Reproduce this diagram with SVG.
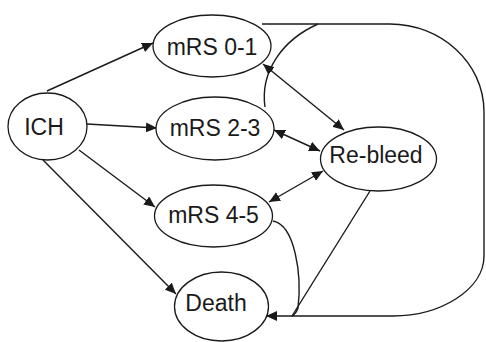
<svg xmlns="http://www.w3.org/2000/svg" width="486" height="342" viewBox="0 0 486 342">
<style>
.n{fill:#fff;stroke:#1a1a1a;stroke-width:1.3}
.t{font-family:"Liberation Sans",Arial,sans-serif;font-size:23px;fill:#1a1a1a;text-anchor:middle}
.e{fill:none;stroke:#1a1a1a;stroke-width:1.4}
</style>
<defs>
<marker id="a" markerUnits="userSpaceOnUse" markerWidth="12" markerHeight="10" refX="11" refY="5" orient="auto-start-reverse">
<path d="M0,0 L11,5 L0,10 Z" fill="#1a1a1a"/>
</marker>
</defs>
<rect width="486" height="342" fill="#fff"/>
<g id="connectors">
<path class="e" d="M47,91 L153,43" marker-end="url(#a)"/>
<path class="e" d="M87,124 L157,128" marker-end="url(#a)"/>
<path class="e" d="M79,150 L155,207" marker-end="url(#a)"/>
<path class="e" d="M43,160 L176,294" marker-end="url(#a)"/>
<path class="e" d="M263,64 L344,130" marker-start="url(#a)" marker-end="url(#a)"/>
<path class="e" d="M274,130 L320,151" marker-start="url(#a)" marker-end="url(#a)"/>
<path class="e" d="M269,202 L323,171" marker-start="url(#a)" marker-end="url(#a)"/>
<path class="e" d="M262,24 H390 C440,24 484,62 484,112 V256 C484,290 440,316 393,316 H266" marker-end="url(#a)"/>
<path class="e" d="M265,107 C260,72 282,40 318,24"/>
<path class="e" d="M273,221 C295,225 302,275 298,308 Q296,314 292,316"/>
<path class="e" d="M370,191 L292,316"/>
</g>
<g id="ICH"><ellipse class="n" cx="47.5" cy="126.5" rx="39.5" ry="33.5"/><text class="t" x="44" y="135">ICH</text></g>
<g id="mRS01"><ellipse class="n" cx="212" cy="46" rx="59" ry="31"/><text class="t" x="212" y="55">mRS 0-1</text></g>
<g id="mRS23"><ellipse class="n" cx="215" cy="128.5" rx="59" ry="31.5"/><text class="t" x="215" y="136">mRS 2-3</text></g>
<g id="mRS45"><ellipse class="n" cx="213.5" cy="216" rx="59" ry="31"/><text class="t" x="213.5" y="223">mRS 4-5</text></g>
<g id="Death"><ellipse class="n" cx="221.5" cy="306.5" rx="47" ry="34.5"/><text class="t" x="216" y="311">Death</text></g>
<g id="Rebleed"><ellipse class="n" cx="378.5" cy="159" rx="58" ry="32"/><text class="t" x="376" y="163">Re-bleed</text></g>
</svg>
